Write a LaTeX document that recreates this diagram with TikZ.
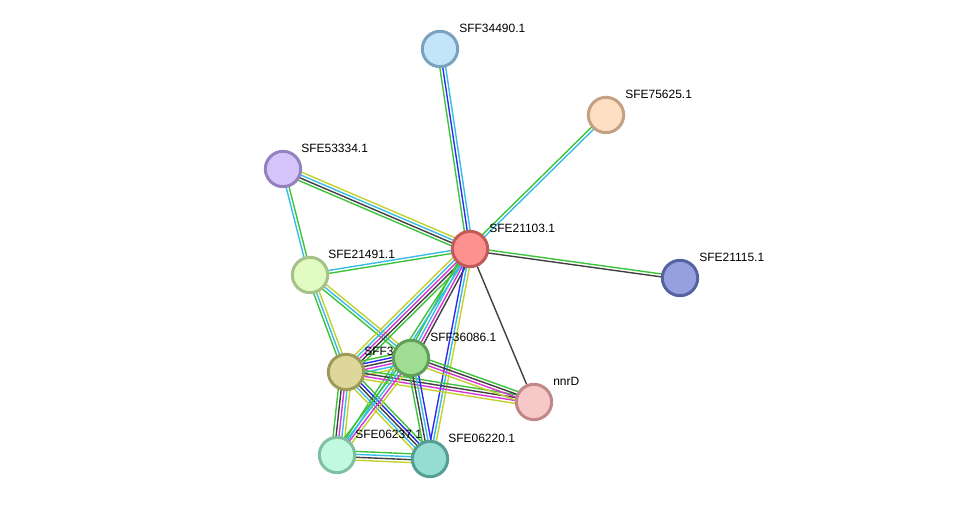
\documentclass[tikz,border=0pt]{standalone}
\usepackage{fontspec}
\setmainfont{Liberation Sans}
\usetikzlibrary{calc,backgrounds}

\definecolor{sgreen}{HTML}{3BC43B}
\definecolor{scyan}{HTML}{38BCE3}
\definecolor{smagenta}{HTML}{D536D5}
\definecolor{sdark}{HTML}{404040}
\definecolor{sblue}{HTML}{2B2BF2}
\definecolor{syellow}{HTML}{C3D12E}

\newcommand\linkgap{2.2}
% one bundle of parallel coloured lines between two proteins
\newcommand\linkbundle[3]{%
  \gdef\nlines{0}%
  \foreach \lcol in {#3}{\pgfmathtruncatemacro\ntmp{\nlines+1}\global\let\nlines\ntmp}%
  \foreach \lcol [count=\i] in {#3}{%
    \pgfmathsetmacro\off{(\i-(\nlines+1)/2)*\linkgap}%
    \draw[link, \lcol] ($(#1)!\off pt!90:(#2)$) -- ($(#2)!\off pt!-90:(#1)$);
  }}

\begin{document}
\begin{tikzpicture}[x=0.75pt, y=-0.75pt,%
% common options for the proteins:
prot/.style = {circle, draw, line width=2.25pt, minimum size=26.5pt, inner sep=0},
% common options for the names:
lbl/.style = {anchor=west, inner sep=0, font=\fontsize{9}{10}\selectfont},
% common options for the evidence lines:
link/.style = {line width=1.05pt}]
\useasboundingbox (0,0) rectangle (976,505);
\node[prot, fill={rgb,255:red,194;green,229;blue,250}, draw={rgb,255:red,122;green,161;blue,189}] (p34490) at (440,49) {};
\node[lbl] (t34490) at (459,28) {SFF34490.1};
\node[prot, fill={rgb,255:red,253;green,223;blue,195}, draw={rgb,255:red,196;green,161;blue,132}] (p75625) at (606,115) {};
\node[lbl] (t75625) at (625,94) {SFE75625.1};
\node[prot, fill={rgb,255:red,212;green,196;blue,250}, draw={rgb,255:red,147;green,129;blue,192}] (p53334) at (283,169) {};
\node[lbl] (t53334) at (301,148) {SFE53334.1};
\node[prot, fill={rgb,255:red,252;green,145;blue,144}, draw={rgb,255:red,194;green,90;blue,90}] (p21103) at (470,249) {};
\node[lbl] (t21103) at (489,228) {SFE21103.1};
\node[prot, fill={rgb,255:red,151;green,160;blue,223}, draw={rgb,255:red,87;green,98;blue,160}] (p21115) at (680,278) {};
\node[lbl] (t21115) at (699,257) {SFE21115.1};
\node[prot, fill={rgb,255:red,225;green,251;blue,194}, draw={rgb,255:red,166;green,194;blue,138}] (p21491) at (310,275) {};
\node[lbl] (t21491) at (328,254) {SFE21491.1};
\node[prot, fill={rgb,255:red,221;green,216;blue,154}, draw={rgb,255:red,160;green,154;blue,90}] (pSFF3) at (346,372) {};
\node[lbl] (tSFF3) at (364,351) {SFF3};
\node[prot, fill={rgb,255:red,158;green,221;blue,146}, draw={rgb,255:red,98;green,160;blue,90}] (p36086) at (411,358) {};
\node[lbl] (t36086) at (430,337) {SFF36086.1};
\node[prot, fill={rgb,255:red,247;green,200;blue,200}, draw={rgb,255:red,192;green,136;blue,136}] (pnnrD) at (534,402) {};
\node[lbl] (tnnrD) at (553,381) {nnrD};
\node[prot, fill={rgb,255:red,192;green,249;blue,222}, draw={rgb,255:red,128;green,192;blue,160}] (p06237) at (337,455) {};
\node[lbl] (t06237) at (355,434) {SFE06237.1};
\node[prot, fill={rgb,255:red,149;green,221;blue,211}, draw={rgb,255:red,85;green,158;blue,148}] (p06220) at (430,459) {};
\node[lbl] (t06220) at (448,438) {SFE06220.1};
\begin{pgfonlayer}{background}
\linkbundle{p34490}{p21103}{sgreen,sblue,scyan}
\linkbundle{p75625}{p21103}{sgreen,scyan}
\linkbundle{p53334}{p21103}{sgreen,sdark,scyan,syellow}
\linkbundle{p53334}{p21491}{scyan,sgreen}
\linkbundle{p21491}{p21103}{sgreen,scyan}
\linkbundle{p21103}{p21115}{sdark,sgreen}
\linkbundle{p21103}{pnnrD}{sdark}
\linkbundle{p21491}{pSFF3}{sgreen,scyan,syellow}
\linkbundle{p21491}{p36086}{sgreen,scyan,syellow}
\linkbundle{p21103}{pSFF3}{syellow,scyan,smagenta,sdark,sgreen}
\linkbundle{p21103}{p36086}{sgreen,scyan,smagenta,sdark}
\linkbundle{p21103}{p06237}{sgreen,scyan}
\linkbundle{p21103}{p06220}{sblue,scyan,syellow}
\linkbundle{pSFF3}{p36086}{syellow,scyan,smagenta,sdark,sblue,sgreen}
\linkbundle{pSFF3}{pnnrD}{syellow,smagenta,sdark,sgreen}
\linkbundle{p36086}{pnnrD}{syellow,smagenta,sdark,sgreen}
\linkbundle{pSFF3}{p06237}{sgreen,sdark,smagenta,scyan,syellow}
\linkbundle{pSFF3}{p06220}{syellow,scyan,sdark,sblue,sgreen}
\linkbundle{p36086}{p06237}{sgreen,scyan,smagenta,syellow}
\linkbundle{p36086}{p06220}{sgreen,sdark,scyan,sblue}
\linkbundle{p06237}{p06220}{syellow,sdark,scyan,sgreen}
\end{pgfonlayer}
\end{tikzpicture}
\end{document}
